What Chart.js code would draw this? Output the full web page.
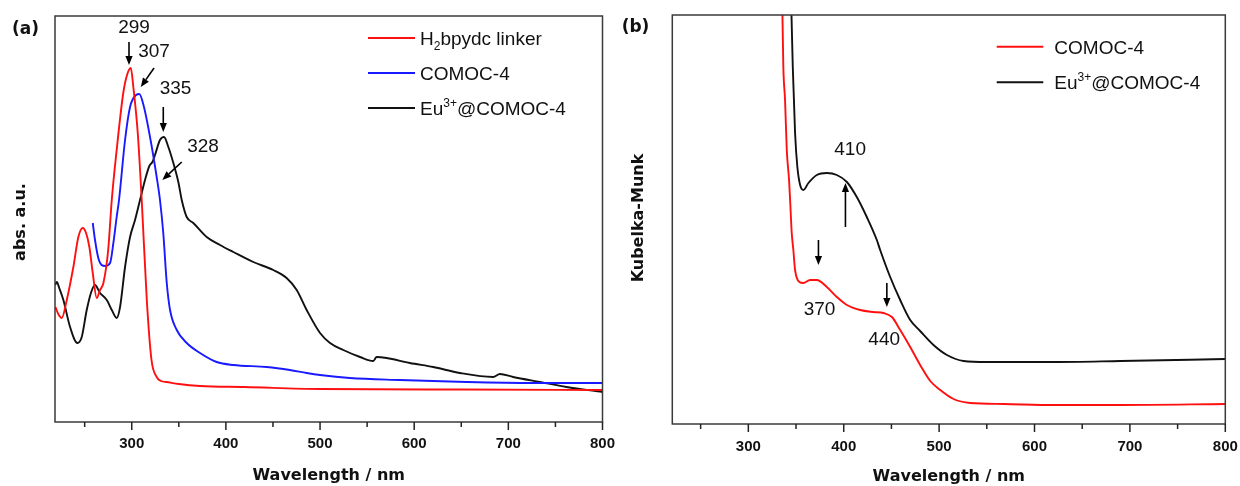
<!DOCTYPE html>
<html><head><meta charset="utf-8">
<script src="https://cdn.jsdelivr.net/npm/chart.js@4.4.1/dist/chart.umd.min.js"></script>
<style>
html,body{margin:0;padding:0;background:#fff;}
#wrap{position:relative;width:1240px;height:486px;overflow:hidden;}
.pane{position:absolute;top:0;height:486px;width:620px;}
</style></head><body>
<div id="wrap">
<div class="pane" style="left:0"><canvas id="ca" width="620" height="486"></canvas></div>
<div class="pane" style="left:620px"><canvas id="cb" width="620" height="486"></canvas></div>
</div>
<script>
// ---------- data ----------
const majorTicks = [300, 400, 500, 600, 700, 800];
const minorTicks = [250, 350, 450, 550, 650, 750];

// Panel (a): UV-vis absorbance (a.u.)
const aLinkerNm  = [219, 222, 225.7, 231, 238, 243.3, 248, 251.5, 255, 258.6, 262.8, 266.3, 269.9, 275, 278.8, 284, 291, 295, 299, 301.7, 306.4, 310.6, 316, 321, 326.5, 331, 337, 350, 372.5, 420, 500, 650, 800];
const aLinkerAbs = [1.15, 1.08, 1.04, 1.22, 1.55, 1.85, 1.94, 1.89, 1.75, 1.49, 1.24, 1.32, 1.39, 1.72, 2.22, 2.72, 3.29, 3.47, 3.54, 3.35, 2.89, 2.22, 1.22, 0.62, 0.45, 0.41, 0.40, 0.38, 0.36, 0.35, 0.33, 0.325, 0.32];

const aComocNm  = [258.6, 261, 264.5, 268, 271.7, 277, 280.5, 284, 286.5, 292.9, 298.2, 304.6, 308, 313, 320, 326.5, 330, 333.5, 337.2, 340.7, 347.8, 358.4, 372.5, 390.2, 407.9, 443.3, 468, 485.8, 500, 531.7, 584.8, 655.6, 726, 800];
const aComocAbs = [1.99, 1.82, 1.64, 1.57, 1.56, 1.59, 1.79, 2.05, 2.22, 2.82, 3.15, 3.27, 3.28, 3.15, 2.82, 2.45, 2.22, 1.89, 1.39, 1.12, 0.92, 0.79, 0.69, 0.60, 0.57, 0.55, 0.52, 0.49, 0.47, 0.44, 0.42, 0.40, 0.39, 0.39];

const aEuNm  = [218.6, 220.4, 223, 227.4, 234.5, 242.3, 246.9, 252.2, 257, 261, 266.3, 273.5, 278.8, 284.1, 287.6, 292.9, 298.2, 303.5, 308.8, 314.1, 318.7, 322, 324.7, 330, 334.3, 338.9, 344.2, 349.5, 353.1, 358.4, 365.4, 379.6, 393.7, 407.9, 429.1, 450.3, 464.5, 475.2, 485.8, 500, 510.6, 524.7, 542.5, 556.5, 560.1, 570.7, 595.4, 620.2, 648.5, 683.9, 691, 705.1, 733.4, 761.8, 800];
const aEuAbs = [1.37, 1.40, 1.34, 1.22, 0.95, 0.79, 0.85, 1.12, 1.30, 1.37, 1.29, 1.22, 1.12, 1.04, 1.15, 1.55, 1.85, 2.02, 2.22, 2.42, 2.56, 2.60, 2.67, 2.82, 2.85, 2.75, 2.59, 2.40, 2.22, 2.05, 1.99, 1.85, 1.77, 1.70, 1.60, 1.52, 1.44, 1.32, 1.12, 0.89, 0.79, 0.72, 0.65, 0.61, 0.65, 0.64, 0.59, 0.55, 0.49, 0.45, 0.48, 0.45, 0.40, 0.35, 0.30];

// Panel (b): Kubelka-Munk
const bComocNm = [334.9, 336.7, 338.5, 340.3, 342.7, 343.8, 345.5, 347.2, 349, 353.5, 357.7, 364.7, 371.8, 382.3, 392.8, 403.3, 417.2, 431.2, 441.7, 450.5, 459.2, 469.7, 480.1, 490.7, 501.2, 515.1, 532.6, 567.6, 620, 690, 800];
const bComocKM = [4.6, 3.57, 3.24, 2.74, 2.44, 2.24, 1.91, 1.74, 1.54, 1.42, 1.41, 1.44, 1.44, 1.37, 1.27, 1.19, 1.14, 1.12, 1.11, 1.07, 0.94, 0.77, 0.59, 0.43, 0.34, 0.25, 0.21, 0.20, 0.19, 0.19, 0.20];

const bEuNm = [344.2, 346.6, 349, 351.4, 354.3, 357.7, 363, 371.8, 382.3, 392.8, 403.3, 413.7, 424.2, 434.7, 438.2, 448.7, 459.2, 469.7, 480.1, 494.1, 508.2, 525.6, 550.2, 620, 690, 800];
const bEuKM = [4.5, 3.57, 2.91, 2.57, 2.39, 2.34, 2.41, 2.49, 2.51, 2.49, 2.42, 2.27, 2.07, 1.84, 1.74, 1.47, 1.24, 1.04, 0.93, 0.79, 0.69, 0.63, 0.62, 0.62, 0.63, 0.65];

// peak annotations: [wavelength, value] of label, arrow from -> to
const aLabels = [
  {t: '299', x: 302.4, y: 3.945}, {t: '307', x: 323.7, y: 3.70},
  {t: '335', x: 346.5, y: 3.335}, {t: '328', x: 375.7, y: 2.75}
];
const aArrows = [
  [297.1, 3.80, 297.1, 3.57], [323.7, 3.54, 309.6, 3.35],
  [333.5, 3.15, 333.5, 2.90], [353.1, 2.60, 332.5, 2.42]
];
const bLabels = [
  {t: '410', x: 406.7, y: 2.74}, {t: '370', x: 374.7, y: 1.14}, {t: '440', x: 442.4, y: 0.84}
];
const bArrows = [
  [401.8, 1.97, 401.8, 2.41], [373.5, 1.84, 373.5, 1.59], [445.2, 1.41, 445.2, 1.17]
];

// ---------- helpers ----------
const pts = (xs, ys) => xs.map((x, i) => ({x, y: ys[i]}));
const REG = "'Liberation Sans', Arial, sans-serif";
const BOLDW = "'DejaVu Sans', sans-serif";

function drawParts(ctx, x, y, parts) {
  let cx = x;
  parts.forEach(p => {
    if (p.sub) { ctx.font = '12px ' + REG; ctx.fillText(p.t, cx, y + 5); }
    else if (p.sup) { ctx.font = '12px ' + REG; ctx.fillText(p.t, cx, y - 8); }
    else { ctx.font = '19px ' + REG; ctx.fillText(p.t, cx, y); }
    cx += ctx.measureText(p.t).width;
  });
}

function arrow(ctx, x1, y1, x2, y2) {
  const ang = Math.atan2(y2 - y1, x2 - x1), L = 9, W = 3.6;
  const bx = x2 - L * Math.cos(ang), by = y2 - L * Math.sin(ang);
  ctx.beginPath(); ctx.moveTo(x1, y1); ctx.lineTo(bx, by); ctx.stroke();
  ctx.beginPath();
  ctx.moveTo(x2, y2);
  ctx.lineTo(bx + W * Math.sin(ang), by - W * Math.cos(ang));
  ctx.lineTo(bx - W * Math.sin(ang), by + W * Math.cos(ang));
  ctx.closePath(); ctx.fill();
}

function decor(cfg) {
  return {
    id: 'decor' + cfg.key,
    afterDraw(chart) {
      const ctx = chart.ctx, a = chart.chartArea;
      const xs = chart.scales.x, ys = chart.scales.y;
      ctx.save();
      // frame
      ctx.strokeStyle = '#3a3a3a'; ctx.lineWidth = 1.5;
      ctx.strokeRect(a.left, a.top, a.right - a.left, a.bottom - a.top);
      // ticks (outward)
      ctx.strokeStyle = '#222'; ctx.lineWidth = 1.5;
      majorTicks.forEach(v => { const px = xs.getPixelForValue(v); ctx.beginPath(); ctx.moveTo(px, a.bottom); ctx.lineTo(px, a.bottom + 8); ctx.stroke(); });
      minorTicks.forEach(v => { const px = xs.getPixelForValue(v); ctx.beginPath(); ctx.moveTo(px, a.bottom); ctx.lineTo(px, a.bottom + 5); ctx.stroke(); });
      // panel letter
      ctx.fillStyle = '#111';
      ctx.font = 'bold 17px ' + BOLDW; ctx.textAlign = 'center'; ctx.textBaseline = 'middle';
      ctx.fillText(cfg.letter, cfg.letterX, cfg.letterY);
      // x title
      ctx.font = 'bold 16px ' + BOLDW; ctx.textBaseline = 'alphabetic';
      ctx.fillText('Wavelength / nm', (a.left + a.right) / 2, cfg.xTitleY);
      // y title
      ctx.save(); ctx.translate(cfg.yTitleX, cfg.yTitleY); ctx.rotate(-Math.PI / 2);
      ctx.textBaseline = 'middle'; ctx.fillText(cfg.yTitle, 0, 0); ctx.restore();
      // legend
      ctx.textAlign = 'left'; ctx.textBaseline = 'alphabetic';
      cfg.legend.forEach((it, i) => {
        const ly = cfg.legY[i];
        ctx.strokeStyle = it.color; ctx.lineWidth = 2;
        ctx.beginPath(); ctx.moveTo(cfg.legX0, ly); ctx.lineTo(cfg.legX1, ly); ctx.stroke();
        ctx.fillStyle = '#111';
        drawParts(ctx, cfg.legTX, ly + 7, it.parts);
      });
      // annotations
      ctx.fillStyle = '#111'; ctx.font = '19px ' + REG; ctx.textAlign = 'center'; ctx.textBaseline = 'middle';
      cfg.labels.forEach(l => ctx.fillText(l.t, xs.getPixelForValue(l.x), ys.getPixelForValue(l.y)));
      ctx.strokeStyle = '#000'; ctx.fillStyle = '#000'; ctx.lineWidth = 1.6;
      cfg.arrows.forEach(r => arrow(ctx, xs.getPixelForValue(r[0]), ys.getPixelForValue(r[1]), xs.getPixelForValue(r[2]), ys.getPixelForValue(r[3])));
      ctx.restore();
    }
  };
}

function makeChart(id, datasets, cfg) {
  return new Chart(document.getElementById(id), {
    type: 'line',
    data: {datasets},
    options: {
      responsive: false, animation: false, events: [],
      layout: {padding: {left: cfg.padL, right: cfg.padR, top: cfg.padT, bottom: 0}},
      plugins: {legend: {display: false}, tooltip: {enabled: false}},
      elements: {point: {radius: 0}, line: {borderWidth: 1.9, cubicInterpolationMode: 'monotone'}},
      scales: {
        x: {
          type: 'linear', min: cfg.xmin, max: 800,
          grid: {display: false, drawTicks: false}, border: {display: false},
          afterBuildTicks: s => { s.ticks = majorTicks.map(v => ({value: v})); },
          afterFit: s => { s.height = cfg.xh; s.paddingLeft = 0; s.paddingRight = 0; },
          ticks: {padding: cfg.tickPad, color: '#111', autoSkip: false, maxRotation: 0,
                  font: {family: REG, weight: 'bold', size: 15}, callback: v => String(v)}
        },
        y: {display: false, min: 0, max: cfg.ymax}
      }
    },
    plugins: [decor(cfg)]
  });
}

makeChart('ca', [
  {data: pts(aLinkerNm, aLinkerAbs), borderColor: '#ff1010'},
  {data: pts(aComocNm, aComocAbs), borderColor: '#1a1aff'},
  {data: pts(aEuNm, aEuAbs), borderColor: '#111'}
], {
  key: 'a', xmin: 218.5, ymax: 4.06, padL: 55, padR: 17.5, padT: 16, xh: 64, tickPad: 13,
  letter: '(a)', letterX: 25.5, letterY: 30, xTitleY: 480, yTitle: 'abs. a.u.', yTitleX: 21, yTitleY: 222,
  legX0: 368, legX1: 415, legTX: 420, legY: [38, 73, 108],
  legend: [
    {color: '#ff1010', parts: [{t: 'H'}, {t: '2', sub: true}, {t: 'bpydc linker'}]},
    {color: '#1a1aff', parts: [{t: 'COMOC-4'}]},
    {color: '#111', parts: [{t: 'Eu'}, {t: '3+', sup: true}, {t: '@COMOC-4'}]}
  ],
  labels: aLabels, arrows: aArrows
});

makeChart('cb', [
  {data: pts(bComocNm, bComocKM), borderColor: '#ff1010'},
  {data: pts(bEuNm, bEuKM), borderColor: '#111'}
], {
  key: 'b', xmin: 220.3, ymax: 4.09, padL: 52.3, padR: 14.7, padT: 15, xh: 62, tickPad: 14,
  letter: '(b)', letterX: 15.5, letterY: 27.5, xTitleY: 481, yTitle: 'Kubelka-Munk', yTitleX: 19, yTitleY: 218,
  legX0: 376.7, legX1: 423.3, legTX: 434.3, legY: [46.7, 82.3],
  legend: [
    {color: '#ff1010', parts: [{t: 'COMOC-4'}]},
    {color: '#111', parts: [{t: 'Eu'}, {t: '3+', sup: true}, {t: '@COMOC-4'}]}
  ],
  labels: bLabels, arrows: bArrows
});
</script>
</body></html>
